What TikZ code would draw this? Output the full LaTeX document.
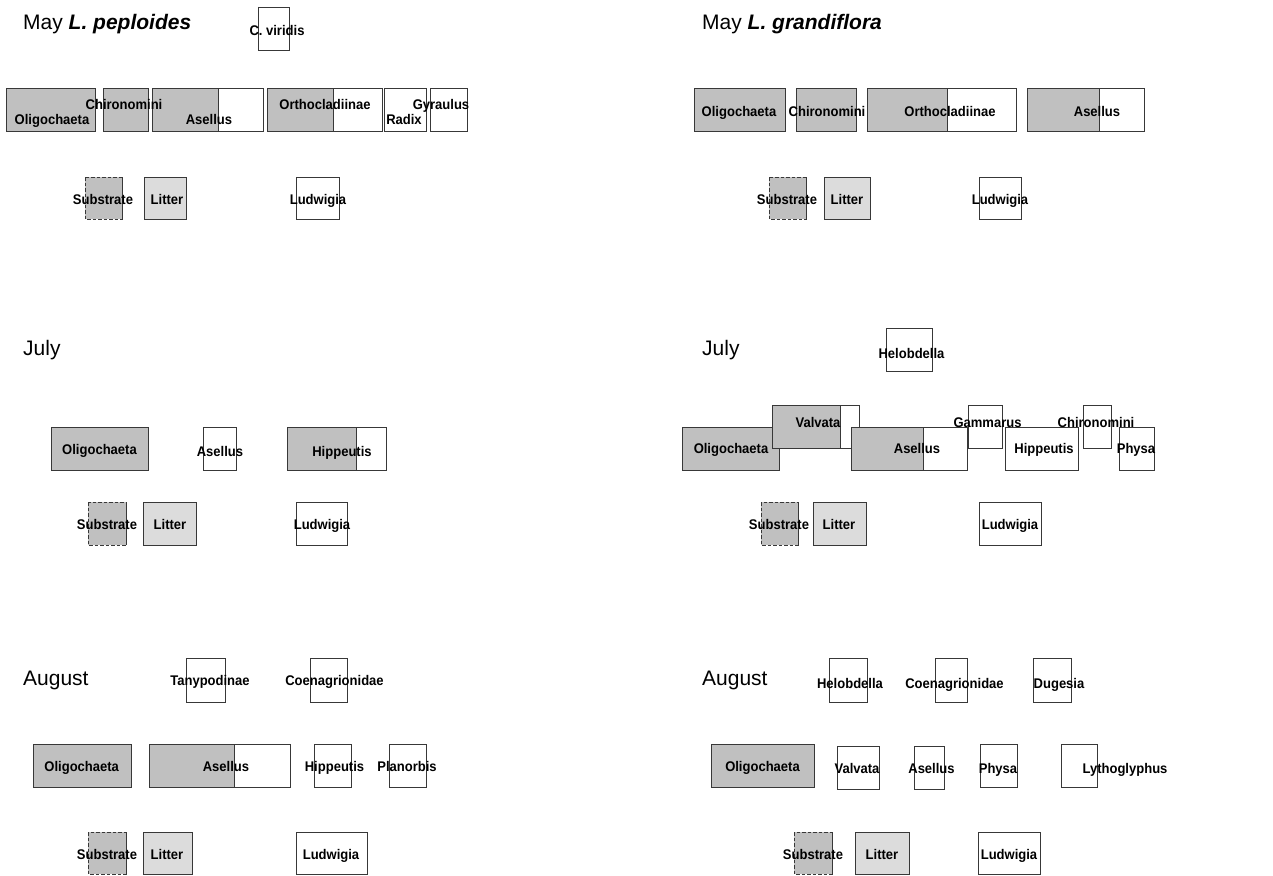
\documentclass[tikz,border=0pt]{standalone}
\usepackage{fontspec}
\setmainfont{Liberation Sans}
\newfontfamily\labfont[FakeStretch=0.93]{Liberation Sans}
\definecolor{gfill}{HTML}{C0C0C0}
\definecolor{lfill}{HTML}{DCDCDC}
\definecolor{edgec}{HTML}{383838}
\newcommand\drawbox[6][]{%
  \fill[white] (#2,#3) rectangle (#5,#6);
  \fill[gfill] (#2,#3) rectangle (#4,#6);
  \draw[edge] (#4,#3) -- (#4,#6);
  \draw[edge,#1] (#2,#3) rectangle (#5,#6);}
\newcommand\litterbox[4]{%
  \fill[lfill] (#1,#2) rectangle (#3,#4);
  \draw[edge] (#1,#2) rectangle (#3,#4);}
\begin{document}
\begin{tikzpicture}[x=1pt,y=-1pt,
  edge/.style={draw=edgec,line width=0.9pt},
  dashedge/.style={dash pattern=on 3.5pt off 2pt},
  lab/.style={font=\labfont\fontsize{14}{14}\selectfont\bfseries,anchor=base,yshift=-5pt,inner sep=0pt,text=black},
  ttl/.style={font=\fontsize{21}{21}\selectfont,anchor=base west,inner sep=0pt,text=black}]
\useasboundingbox (0,0) rectangle (1273,875);
% ---------- Panel 1: May L. peploides ----------
\node[ttl] (t1) at (23,30) {May \textbf{\itshape L. peploides}};
\drawbox{258}{7}{258}{289}{50}
\drawbox{6}{88}{95}{95}{131}
\drawbox{103}{88}{148}{148}{131}
\drawbox{152}{88}{218}{263}{131}
\drawbox{267}{88}{333}{382}{131}
\drawbox{384}{88}{384}{426}{131}
\drawbox{430}{88}{430}{467}{131}
\drawbox[dashedge]{85}{177}{122}{122}{219}
\litterbox{144}{177}{186}{219}
\drawbox{296}{177}{296}{339}{219}
\node[lab] (p1a) at (277,31) {C. viridis};
\node[lab] (p1b) at (52,119) {Oligochaeta};
\node[lab] (p1c) at (124,104) {Chironomini};
\node[lab] (p1d) at (209,119) {Asellus};
\node[lab] (p1e) at (325,104) {Orthocladiinae};
\node[lab] (p1f) at (404,119) {Radix};
\node[lab] (p1g) at (441,104) {Gyraulus};
\node[lab] (p1h) at (103,199) {Substrate};
\node[lab] (p1i) at (167,199) {Litter};
\node[lab] (p1j) at (318,199) {Ludwigia};
% ---------- Panel 2: May L. grandiflora ----------
\node[ttl] (t2) at (702,30) {May \textbf{\itshape L. grandiflora}};
\drawbox{694}{88}{785}{785}{131}
\drawbox{796}{88}{856}{856}{131}
\drawbox{867}{88}{947}{1016}{131}
\drawbox{1027}{88}{1099}{1144}{131}
\drawbox[dashedge]{769}{177}{806}{806}{219}
\litterbox{824}{177}{870}{219}
\drawbox{979}{177}{979}{1021}{219}
\node[lab] (p2a) at (739,111) {Oligochaeta};
\node[lab] (p2b) at (827,111) {Chironomini};
\node[lab] (p2c) at (950,111) {Orthocladiinae};
\node[lab] (p2d) at (1097,111) {Asellus};
\node[lab] (p2e) at (787,199) {Substrate};
\node[lab] (p2f) at (847,199) {Litter};
\node[lab] (p2g) at (1000,199) {Ludwigia};
% ---------- Panel 3: July left ----------
\node[ttl] (t3) at (23,355) {July};
\drawbox{51}{427}{148}{148}{470}
\drawbox{203}{427}{203}{236}{470}
\drawbox{287}{427}{356}{386}{470}
\drawbox[dashedge]{88}{502}{126}{126}{545}
\litterbox{143}{502}{196}{545}
\drawbox{296}{502}{296}{347}{545}
\node[lab] (p3a) at (99.5,449) {Oligochaeta};
\node[lab] (p3b) at (220,451) {Asellus};
\node[lab] (p3c) at (342,451) {Hippeutis};
\node[lab] (p3d) at (107,524) {Substrate};
\node[lab] (p3e) at (170,524) {Litter};
\node[lab] (p3f) at (322,524) {Ludwigia};
% ---------- Panel 4: July right ----------
\node[ttl] (t4) at (702,355) {July};
\drawbox{886}{328}{886}{932}{371}
\drawbox{682}{427}{779}{779}{470}
\drawbox{772}{405}{840}{859}{448}
\drawbox{851}{427}{923}{967}{470}
\drawbox{968}{405}{968}{1002}{448}
\drawbox{1005}{427}{1005}{1078}{470}
\drawbox{1083}{405}{1083}{1111}{448}
\drawbox{1119}{427}{1119}{1154}{470}
\drawbox[dashedge]{761}{502}{798}{798}{545}
\litterbox{813}{502}{866}{545}
\drawbox{979}{502}{979}{1041}{545}
\node[lab] (p4a) at (911.5,353) {Helobdella};
\node[lab] (p4b) at (731,448) {Oligochaeta};
\node[lab] (p4c) at (818,422) {Valvata};
\node[lab] (p4d) at (917,448) {Asellus};
\node[lab] (p4e) at (987.5,422) {Gammarus};
\node[lab] (p4f) at (1044,448) {Hippeutis};
\node[lab] (p4g) at (1096,422) {Chironomini};
\node[lab] (p4h) at (1136,448) {Physa};
\node[lab] (p4i) at (779,524) {Substrate};
\node[lab] (p4j) at (839,524) {Litter};
\node[lab] (p4k) at (1010,524) {Ludwigia};
% ---------- Panel 5: August left ----------
\node[ttl] (t5) at (23,685) {August};
\drawbox{186}{658}{186}{225}{702}
\drawbox{310}{658}{310}{347}{702}
\drawbox{33}{744}{131}{131}{787}
\drawbox{149}{744}{234}{290}{787}
\drawbox{314}{744}{314}{351}{787}
\drawbox{389}{744}{389}{426}{787}
\drawbox[dashedge]{88}{832}{126}{126}{874}
\litterbox{143}{832}{192}{874}
\drawbox{296}{832}{296}{367}{874}
\node[lab] (p5a) at (210,680) {Tanypodinae};
\node[lab] (p5b) at (334.5,680) {Coenagrionidae};
\node[lab] (p5c) at (81.7,766) {Oligochaeta};
\node[lab] (p5d) at (226,766) {Asellus};
\node[lab] (p5e) at (334.5,766) {Hippeutis};
\node[lab] (p5f) at (407,766) {Planorbis};
\node[lab] (p5g) at (107,854) {Substrate};
\node[lab] (p5h) at (167,854) {Litter};
\node[lab] (p5i) at (331,854) {Ludwigia};
% ---------- Panel 6: August right ----------
\node[ttl] (t6) at (702,685) {August};
\drawbox{829}{658}{829}{867}{702}
\drawbox{935}{658}{935}{967}{702}
\drawbox{1033}{658}{1033}{1071}{702}
\drawbox{711}{744}{814}{814}{787}
\drawbox{837}{746}{837}{879}{789}
\drawbox{914}{746}{914}{944}{789}
\drawbox{980}{744}{980}{1017}{787}
\drawbox{1061}{744}{1061}{1097}{787}
\drawbox[dashedge]{794}{832}{832}{832}{874}
\litterbox{855}{832}{909}{874}
\drawbox{978}{832}{978}{1040}{874}
\node[lab] (p6a) at (850,683) {Helobdella};
\node[lab] (p6b) at (954.5,683) {Coenagrionidae};
\node[lab] (p6c) at (1059,683) {Dugesia};
\node[lab] (p6d) at (762.5,766) {Oligochaeta};
\node[lab] (p6e) at (857,768) {Valvata};
\node[lab] (p6f) at (931.5,768) {Asellus};
\node[lab] (p6g) at (998,768) {Physa};
\node[lab] (p6h) at (1125,768) {Lythoglyphus};
\node[lab] (p6i) at (813,854) {Substrate};
\node[lab] (p6j) at (882,854) {Litter};
\node[lab] (p6k) at (1009,854) {Ludwigia};
\end{tikzpicture}
\end{document}
